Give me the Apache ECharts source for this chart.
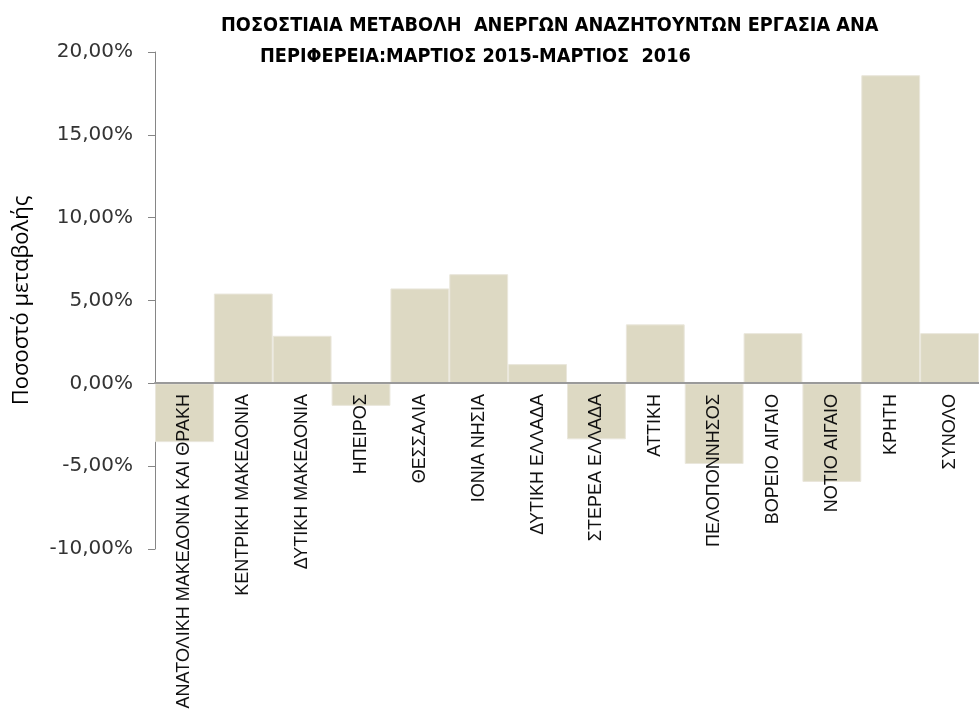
<!DOCTYPE html>
<html>
<head>
<meta charset="utf-8">
<script src="https://cdn.jsdelivr.net/npm/echarts@6/dist/echarts.min.js"></script>
<style>
  html, body { margin: 0; padding: 0; background: #fff; }
  #chart { width: 979px; height: 716px; }
</style>
</head>
<body>
<div id="chart"></div>
<script>
const regions = [
  'ΑΝΑΤΟΛΙΚΗ ΜΑΚΕΔΟΝΙΑ ΚΑΙ ΘΡΑΚΗ', 'ΚΕΝΤΡΙΚΗ ΜΑΚΕΔΟΝΙΑ', 'ΔΥΤΙΚΗ ΜΑΚΕΔΟΝΙΑ',
  'ΗΠΕΙΡΟΣ', 'ΘΕΣΣΑΛΙΑ', 'ΙΟΝΙΑ ΝΗΣΙΑ', 'ΔΥΤΙΚΗ ΕΛΛΑΔΑ', 'ΣΤΕΡΕΑ ΕΛΛΑΔΑ',
  'ΑΤΤΙΚΗ', 'ΠΕΛΟΠΟΝΝΗΣΟΣ', 'ΒΟΡΕΙΟ ΑΙΓΑΙΟ', 'ΝΟΤΙΟ ΑΙΓΑΙΟ', 'ΚΡΗΤΗ', 'ΣΥΝΟΛΟ'
]
// percent change, March 2015 - March 2016
const changes = [-3.55, 5.42, 2.87, -1.36, 5.73, 6.59, 1.16, -3.38, 3.56, -4.87, 3.03, -5.95, 18.6, 3.03]

const yMin = -10
const yMax = 20
const yStep = 5

const narrow = '"Liberation Sans Narrow", "DejaVu Sans Condensed", sans-serif'

const myChart = echarts.init(document.getElementById('chart'))

// plot area: 0% sits at 383px, -10% at 549px -> category axis lifted to the zero line
const gridTop = 52
const gridBottom = 167
const zeroLift = -166

const option = {
  animation: false,
  title: [
    {
      text: 'ΠΟΣΟΣΤΙΑΙΑ ΜΕΤΑΒΟΛΗ  ΑΝΕΡΓΩΝ ΑΝΑΖΗΤΟΥΝΤΩΝ ΕΡΓΑΣΙΑ ΑΝΑ',
      left: 216,
      top: 11,
      textStyle: { fontFamily: narrow, fontSize: 19.7, fontWeight: 'bold', color: '#000' },
    },
    {
      text: 'ΠΕΡΙΦΕΡΕΙΑ:ΜΑΡΤΙΟΣ 2015-ΜΑΡΤΙΟΣ  2016',
      left: 255,
      top: 42,
      textStyle: { fontFamily: narrow, fontSize: 19.7, fontWeight: 'bold', color: '#000' },
    },
  ],
  grid: {
    left: 155,
    right: 0,
    top: gridTop,
    bottom: gridBottom,
    containLabel: false,
    outerBoundsMode: 'none',
  },
  xAxis: {
    type: 'category',
    data: regions,
    z: 10,
    position: 'bottom',
    offset: zeroLift,
    axisLine: { onZero: false, lineStyle: { color: '#9a9a9a', width: 2 } },
    axisTick: { show: false },
    axisLabel: {
      interval: 0,
      rotate: 90,
      margin: 11,
      fontFamily: '"Liberation Sans", Arial, sans-serif',
      fontSize: 18,
      color: '#111',
    },
  },
  yAxis: {
    type: 'value',
    min: yMin,
    max: yMax,
    interval: yStep,
    name: 'Ποσοστό μεταβολής',
    nameLocation: 'middle',
    nameRotate: 90,
    nameGap: 122,
    nameTextStyle: { fontFamily: '"Open Sans", sans-serif', fontSize: 22, color: '#000' },
    axisLine: { show: true, lineStyle: { color: '#868686', width: 1 } },
    axisTick: { show: true, length: 7, lineStyle: { color: '#868686' } },
    splitLine: { show: false },
    axisLabel: {
      margin: 22,
      fontFamily: '"DejaVu Sans", sans-serif',
      fontSize: 20,
      color: '#333',
      formatter: (v) => v.toFixed(2).replace('.', ',') + '%',
    },
  },
  series: [
    {
      type: 'bar',
      data: changes,
      barCategoryGap: 0,
      itemStyle: {
        color: '#DDD9C3',
        borderColor: '#EAE7DC',
        borderWidth: 1,
      },
    },
  ],
}

myChart.setOption(option)
</script>
</body>
</html>
